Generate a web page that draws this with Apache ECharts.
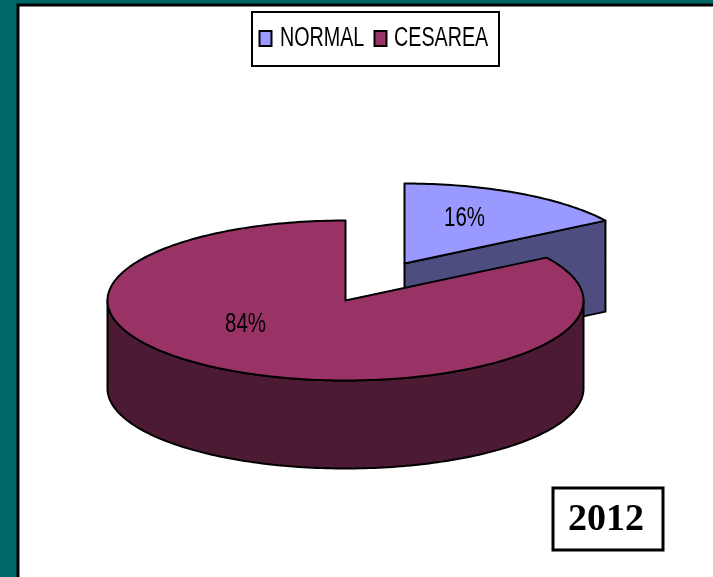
<!DOCTYPE html>
<html>
<head>
<meta charset="utf-8">
<style>
  html, body { margin: 0; padding: 0; background: #006666; }
  #chart { width: 713px; height: 577px; }
</style>
<script src="https://cdn.jsdelivr.net/npm/echarts@6/dist/echarts.min.js"></script>
</head>
<body>
<div id="chart"></div>
<script>
const categories = ["NORMAL", "CESAREA"]
const values = [16, 84]
const labels = ["16%", "84%"]
const topColors = ["#9999FF", "#993366"]
const sideColors = ["#4D4D80", "#4D1A33"]
const yearLabel = "2012"

// pie layout, in pixels
const center = [345.5, 300.5]
const rx = 238
const ry = 80
const depths = [91, 88]
const explode = [[59, -37], [0, 0]]
const labelAt = [[0.252, -0.56], [-0.42, 0.3]]

// the source text is a squeezed Arial, no narrow face is installed here
const font = "'Liberation Sans', Arial, sans-serif"
const squeeze = 0.73

// legend layout: swatch and text x for each entry
const legendSwatchX = [259.5, 374.5]
const legendTextX = [280, 394]

const total = values.reduce((a, b) => a + b, 0)

// angle is clockwise from 12 o'clock
function rim(cx, cy, angle) {
  return [cx + rx * Math.sin(angle), cy - ry * Math.cos(angle)]
}

function arc(cx, cy, from, to) {
  const steps = Math.max(2, Math.ceil(Math.abs(to - from) / 0.02))
  const points = []
  for (let i = 0; i <= steps; i++) points.push(rim(cx, cy, from + (to - from) * i / steps))
  return points
}

function polygon(points, fill, z2) {
  return {
    type: "polygon",
    z2,
    shape: { points },
    style: { fill, stroke: "#000", lineWidth: 2, lineJoin: "round" }
  }
}

function renderSlice(index) {
  return (params, api) => {
    const before = values.slice(0, index).reduce((a, b) => a + b, 0)
    const start = before / total * Math.PI * 2
    const end = start + api.value(0) / total * Math.PI * 2
    const cx = center[0] + explode[index][0]
    const cy = center[1] + explode[index][1]
    const depth = depths[index]
    const children = []

    // cut face turned to the viewer, on the slice's closing edge
    if (Math.sin(end) > 0 && Math.cos(end) > 0) {
      const e = rim(cx, cy, end)
      children.push(polygon([[cx, cy], e, [e[0], e[1] + depth], [cx, cy + depth]], sideColors[index], 1))
    }

    // outer wall: only the front half of the rim shows
    const wallFrom = Math.max(start, Math.PI / 2)
    const wallTo = Math.min(end, Math.PI * 1.5)
    if (wallTo > wallFrom) {
      const upper = arc(cx, cy, wallFrom, wallTo)
      const lower = arc(cx, cy + depth, wallFrom, wallTo).reverse()
      children.push(polygon(upper.concat(lower), sideColors[index], 2))
    }

    children.push(polygon([[cx, cy]].concat(arc(cx, cy, start, end)), topColors[index], 3))

    children.push({
      type: "text",
      z2: 4,
      x: cx + labelAt[index][0] * rx,
      y: cy + labelAt[index][1] * ry,
      scaleX: squeeze,
      style: {
        text: labels[index],
        fill: "#000",
        font: "28px " + font,
        align: "center",
        verticalAlign: "middle"
      }
    })
    return { type: "group", children }
  }
}

// echarts legend text can't be squeezed, so the legend is drawn as graphic elements
function legendElements() {
  const elements = [{
    type: "rect",
    z: 5,
    shape: { x: 252, y: 12, width: 247, height: 54 },
    style: { fill: "#fff", stroke: "#000", lineWidth: 2 }
  }]
  categories.forEach((name, i) => {
    elements.push({
      type: "rect",
      z: 6,
      shape: { x: legendSwatchX[i], y: 31, width: 12, height: 15 },
      style: { fill: topColors[i], stroke: "#000", lineWidth: 2 }
    })
    elements.push({
      type: "text",
      z: 6,
      x: legendTextX[i],
      y: 39,
      scaleX: squeeze,
      style: {
        text: name,
        fill: "#000",
        font: "27px " + font,
        align: "left",
        verticalAlign: "middle"
      }
    })
  })
  return elements
}

const chart = echarts.init(document.getElementById("chart"), null, { renderer: "canvas" })

chart.setOption({
  animation: false,
  backgroundColor: "#006666",
  graphic: [
    {
      type: "rect",
      z: -1,
      shape: { x: 18, y: 5, width: 720, height: 600 },
      style: { fill: "#fff", stroke: "#000", lineWidth: 3 }
    },
    ...legendElements(),
    {
      type: "rect",
      z: 5,
      shape: { x: 553, y: 488, width: 110, height: 62 },
      style: { fill: "#fff", stroke: "#000", lineWidth: 3 }
    },
    {
      type: "text",
      z: 6,
      style: {
        x: 606,
        y: 520,
        text: yearLabel,
        fill: "#000",
        font: "bold 38px 'Liberation Serif', serif",
        align: "center",
        verticalAlign: "middle"
      }
    }
  ],
  // drawn back to front so the main slice covers the exploded one
  series: categories.map((name, index) => ({
    type: "custom",
    name,
    coordinateSystem: "none",
    silent: true,
    z: 2 + index,
    itemStyle: { color: topColors[index] },
    data: [[values[index]]],
    renderItem: renderSlice(index)
  }))
})
</script>
</body>
</html>
